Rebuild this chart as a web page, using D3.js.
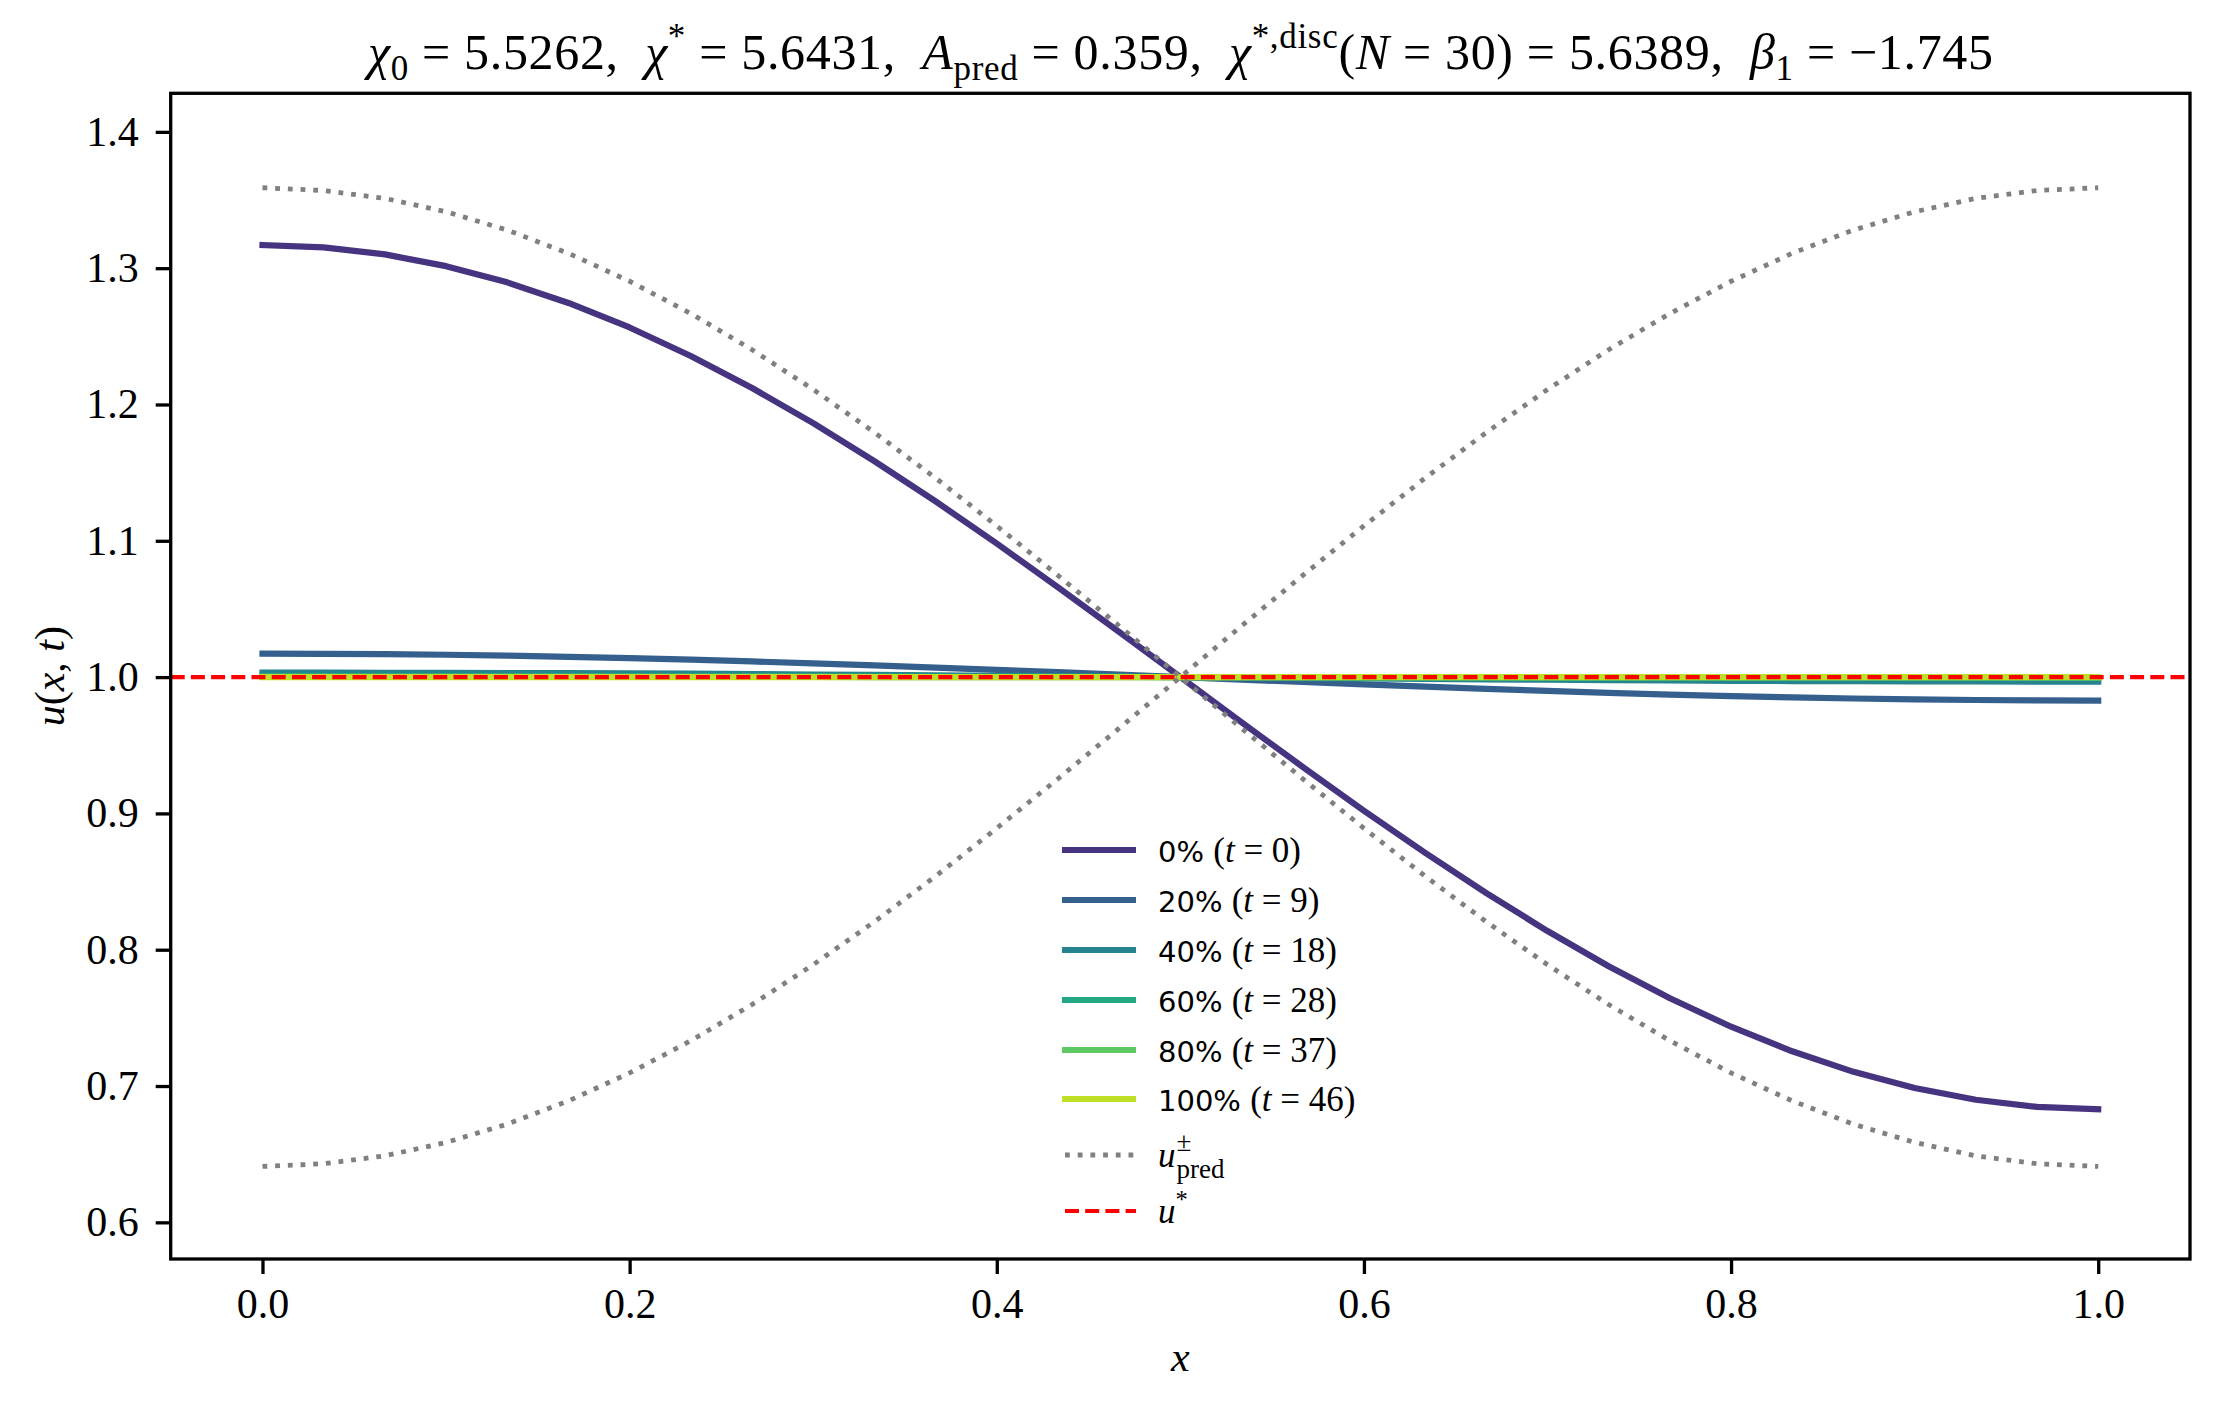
<!DOCTYPE html>
<html>
<head>
<meta charset="utf-8">
<script src="https://cdn.jsdelivr.net/npm/d3@7"></script>
<style>
  html, body { margin: 0; padding: 0; background: #fff; }
  text { white-space: pre; }
</style>
</head>
<body>
<svg id="chart" width="2220" height="1409"></svg>
<script>
// grid points x_i (N = 30)
const xs = [0.0000, 0.0333, 0.0667, 0.1000, 0.1333, 0.1667, 0.2000, 0.2333, 0.2667, 0.3000,
  0.3333, 0.3667, 0.4000, 0.4333, 0.4667, 0.5000, 0.5333, 0.5667, 0.6000, 0.6333,
  0.6667, 0.7000, 0.7333, 0.7667, 0.8000, 0.8333, 0.8667, 0.9000, 0.9333, 0.9667, 1.0000];

// u(x,t) snapshots
const u0 = [1.3170, 1.3153, 1.3101, 1.3015, 1.2896, 1.2745, 1.2565, 1.2356, 1.2121, 1.1863,
  1.1585, 1.1289, 1.0980, 1.0659, 1.0331, 1.0000, 0.9669, 0.9341, 0.9020, 0.8711,
  0.8415, 0.8137, 0.7879, 0.7644, 0.7435, 0.7255, 0.7104, 0.6985, 0.6899, 0.6847, 0.6830];
const u20 = [1.0172, 1.0171, 1.0168, 1.0164, 1.0157, 1.0149, 1.0139, 1.0128, 1.0115, 1.0101,
  1.0086, 1.0070, 1.0053, 1.0036, 1.0018, 1.0000, 0.9982, 0.9964, 0.9947, 0.9930,
  0.9914, 0.9899, 0.9885, 0.9872, 0.9861, 0.9851, 0.9843, 0.9836, 0.9832, 0.9829, 0.9828];
const u40 = [1.0033, 1.0033, 1.0032, 1.0031, 1.0030, 1.0029, 1.0027, 1.0025, 1.0022, 1.0019,
  1.0017, 1.0013, 1.0010, 1.0007, 1.0003, 1.0000, 0.9997, 0.9993, 0.9990, 0.9987,
  0.9983, 0.9981, 0.9978, 0.9975, 0.9973, 0.9971, 0.9970, 0.9969, 0.9968, 0.9967, 0.9967];
const u60 = [1.0006, 1.0006, 1.0006, 1.0006, 1.0005, 1.0005, 1.0005, 1.0004, 1.0004, 1.0004,
  1.0003, 1.0002, 1.0002, 1.0001, 1.0001, 1.0000, 0.9999, 0.9999, 0.9998, 0.9998,
  0.9997, 0.9996, 0.9996, 0.9996, 0.9995, 0.9995, 0.9995, 0.9994, 0.9994, 0.9994, 0.9994];
const u80 = [1.0001, 1.0001, 1.0001, 1.0001, 1.0001, 1.0001, 1.0001, 1.0001, 1.0001, 1.0001,
  1.0000, 1.0000, 1.0000, 1.0000, 1.0000, 1.0000, 1.0000, 1.0000, 1.0000, 1.0000,
  1.0000, 0.9999, 0.9999, 0.9999, 0.9999, 0.9999, 0.9999, 0.9999, 0.9999, 0.9999, 0.9999];
const u100 = [1.0000, 1.0000, 1.0000, 1.0000, 1.0000, 1.0000, 1.0000, 1.0000, 1.0000, 1.0000,
  1.0000, 1.0000, 1.0000, 1.0000, 1.0000, 1.0000, 1.0000, 1.0000, 1.0000, 1.0000,
  1.0000, 1.0000, 1.0000, 1.0000, 1.0000, 1.0000, 1.0000, 1.0000, 1.0000, 1.0000, 1.0000];

// predicted envelopes u_pred^+ / u_pred^-
const uPredPlus = [1.3590, 1.3570, 1.3512, 1.3414, 1.3280, 1.3109, 1.2904, 1.2668, 1.2402, 1.2110,
  1.1795, 1.1460, 1.1109, 1.0746, 1.0375, 1.0000, 0.9625, 0.9254, 0.8891, 0.8540,
  0.8205, 0.7890, 0.7598, 0.7332, 0.7096, 0.6891, 0.6720, 0.6586, 0.6488, 0.6430, 0.6410];
const uPredMinus = [0.6410, 0.6430, 0.6488, 0.6586, 0.6720, 0.6891, 0.7096, 0.7332, 0.7598, 0.7890,
  0.8205, 0.8540, 0.8891, 0.9254, 0.9625, 1.0000, 1.0375, 1.0746, 1.1109, 1.1460,
  1.1795, 1.2110, 1.2402, 1.2668, 1.2904, 1.3109, 1.3280, 1.3414, 1.3512, 1.3570, 1.3590];
const uStar = 1.0;

const pctLabels = ["0%", "20%", "40%", "60%", "80%", "100%"];
const tSteps = [0, 9, 18, 28, 37, 46];
const snapshots = [u0, u20, u40, u60, u80, u100];

const xTicks = [0.0, 0.2, 0.4, 0.6, 0.8, 1.0];
const yTicks = [0.6, 0.7, 0.8, 0.9, 1.0, 1.1, 1.2, 1.3, 1.4];

// ---- styling / layout ----
const serif = "'Liberation Serif', 'DejaVu Serif', serif";
const sans = "'DejaVu Sans', sans-serif";
const viridisAt = [0.15, 0.30, 0.45, 0.60, 0.75, 0.90];
const axL = 170.7, axR = 2190, axT = 93.3, axB = 1259;
const lw = 6.2;

const svg = d3.select("#chart");
svg.append("rect").attr("width", 2220).attr("height", 1409).attr("fill", "#fff");

const x = d3.scaleLinear().domain([-0.05, 1.05]).range([axL, axR]);
const y = d3.scaleLinear().domain([0.5731, 1.4283]).range([axB, axT]);

// rich text: italics, sub / superscripts
function rich(sel, parts, fs) {
  let prev = 0;
  parts.forEach(p => {
    const base = p.fs || fs;
    const size = (p.sub || p.sup) ? base * 0.7 : base;
    const shift = p.sub ? 0.22 * base : p.sup ? -0.42 * base : 0;
    const ts = sel.append("tspan").text(p.t)
      .attr("font-size", size)
      .attr("dy", shift - prev);
    if (p.i) ts.attr("font-style", "italic");
    if (p.sans) ts.attr("font-family", sans);
    if (p.dx) ts.attr("dx", p.dx);
    prev = shift;
  });
  return sel;
}

svg.append("clipPath").attr("id", "clip")
  .append("rect").attr("x", axL).attr("y", axT)
  .attr("width", axR - axL).attr("height", axB - axT);

const plot = svg.append("g").attr("clip-path", "url(#clip)");
const line = d3.line().x((d, i) => x(xs[i])).y(d => y(d));

snapshots.forEach((s, k) => {
  plot.append("path").datum(s)
    .attr("d", line)
    .attr("fill", "none")
    .attr("stroke", d3.interpolateViridis(viridisAt[k]))
    .attr("stroke-width", lw)
    .attr("stroke-linejoin", "round")
    .attr("stroke-linecap", "square");
});

[uPredPlus, uPredMinus].forEach(s => {
  plot.append("path").datum(s)
    .attr("d", line)
    .attr("fill", "none")
    .attr("stroke", "gray")
    .attr("stroke-width", 4.8)
    .attr("stroke-dasharray", "4.8 7.9");
});

plot.append("line")
  .attr("x1", axL).attr("x2", axR)
  .attr("y1", y(uStar)).attr("y2", y(uStar))
  .attr("stroke", "red")
  .attr("stroke-width", 4.2)
  .attr("stroke-dasharray", "14 6.2");

// axes
const xAxis = svg.append("g")
  .attr("transform", `translate(0,${axB})`)
  .call(d3.axisBottom(x).tickValues(xTicks).tickFormat(d3.format(".1f")).tickSize(15).tickPadding(0));
const yAxis = svg.append("g")
  .attr("transform", `translate(${axL},0)`)
  .call(d3.axisLeft(y).tickValues(yTicks).tickFormat(d3.format(".1f")).tickSize(15).tickPadding(0));

[xAxis, yAxis].forEach(g => {
  g.select(".domain").remove();
  g.selectAll(".tick line").attr("stroke", "#000").attr("stroke-width", 3.3);
  g.selectAll(".tick text").attr("font-family", serif).attr("font-size", 42).attr("fill", "#000");
});
xAxis.selectAll(".tick text").attr("y", 59).attr("dy", 0);
yAxis.selectAll(".tick text").attr("x", -32).attr("dy", "0.32em");

svg.append("rect")
  .attr("x", axL).attr("y", axT)
  .attr("width", axR - axL).attr("height", axB - axT)
  .attr("fill", "none").attr("stroke", "#000").attr("stroke-width", 3.3);

// axis labels
rich(svg.append("text").attr("x", (axL + axR) / 2).attr("y", 1371)
  .attr("text-anchor", "middle").attr("font-family", serif), [{ t: "x", i: true }], 42);

rich(svg.append("text")
  .attr("transform", `translate(64,${(axT + axB) / 2}) rotate(-90)`)
  .attr("text-anchor", "middle").attr("font-family", serif),
  [{ t: "u", i: true }, { t: "(" }, { t: "x", i: true }, { t: ", " }, { t: "t", i: true }, { t: ")" }], 42);

// title
const title = rich(svg.append("text").attr("x", 368).attr("y", 69)
  .attr("font-family", serif),
  [{ t: "χ", i: true }, { t: "0", sub: true }, { t: " = 5.5262,  " },
   { t: "χ", i: true }, { t: "*", sup: true }, { t: " = 5.6431,  " },
   { t: "A", i: true }, { t: "pred", sub: true }, { t: " = 0.359,  " },
   { t: "χ", i: true }, { t: "*,disc", sup: true }, { t: "(" }, { t: "N", i: true },
   { t: " = 30) = 5.6389,  " },
   { t: "β", i: true }, { t: "1", sub: true }, { t: " = −1.745" }], 50);
title.attr("textLength", 1625).attr("lengthAdjust", "spacing");

// legend
const lg = svg.append("g");
const rowY = [850, 900, 950, 1000, 1050, 1099, 1155, 1211];
const hx0 = 1062, hx1 = 1136, tx = 1158, lfs = 29, mfs = 35;

snapshots.forEach((s, k) => {
  lg.append("line")
    .attr("x1", hx0).attr("x2", hx1).attr("y1", rowY[k]).attr("y2", rowY[k])
    .attr("stroke", d3.interpolateViridis(viridisAt[k]))
    .attr("stroke-width", lw);
  rich(lg.append("text").attr("x", tx).attr("y", rowY[k] + 12).attr("font-family", serif),
    [{ t: pctLabels[k] + " ", sans: true, fs: lfs }, { t: "(" }, { t: "t", i: true },
     { t: " = " + tSteps[k] + ")" }], mfs);
});

lg.append("line")
  .attr("x1", hx0 + 3).attr("x2", hx1).attr("y1", rowY[6]).attr("y2", rowY[6])
  .attr("stroke", "gray").attr("stroke-width", 4.8).attr("stroke-dasharray", "4.8 7.9");
const uTxt = lg.append("text").attr("x", tx).attr("y", rowY[6] + 12)
  .attr("font-family", serif).attr("font-size", mfs).attr("font-style", "italic").text("u");
const uw = uTxt.node().getComputedTextLength();
lg.append("text").attr("x", tx + uw + 1).attr("y", rowY[6] - 4)
  .attr("font-family", serif).attr("font-size", 27).text("±");
lg.append("text").attr("x", tx + uw + 1).attr("y", rowY[6] + 23)
  .attr("font-family", serif).attr("font-size", 27).text("pred");

lg.append("line")
  .attr("x1", hx0 + 3).attr("x2", hx1).attr("y1", rowY[7]).attr("y2", rowY[7])
  .attr("stroke", "red").attr("stroke-width", 4.2).attr("stroke-dasharray", "14 6.2");
rich(lg.append("text").attr("x", tx).attr("y", rowY[7] + 12).attr("font-family", serif),
  [{ t: "u", i: true }, { t: "*", sup: true }], mfs);
</script>
</body>
</html>
